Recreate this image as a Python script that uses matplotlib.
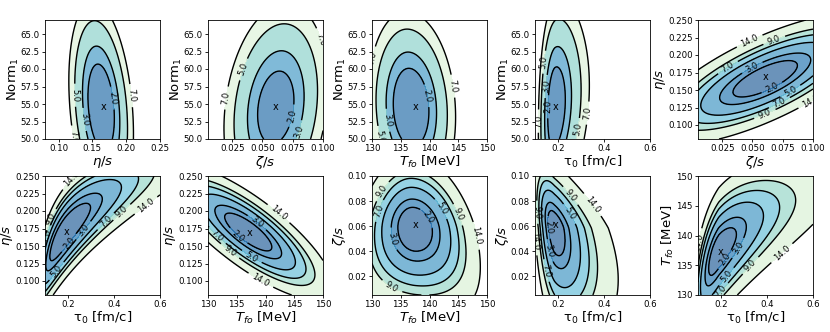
import numpy as np
import matplotlib
matplotlib.use('Agg')
import matplotlib.pyplot as plt
from matplotlib.colors import Normalize

# chi^2 contour panels: (x parameter, y parameter)
x_names = ['eta', 'zeta', 'tfo', 'tau', 'zeta', 'tau', 'tfo', 'tfo', 'tau', 'tau']
y_names = ['norm', 'norm', 'norm', 'norm', 'eta', 'eta', 'eta', 'zeta', 'zeta', 'tfo']

axis_labels = {'eta': r'$\eta/s$', 'zeta': r'$\zeta/s$', 'tfo': r'$T_{fo}$ [MeV]',
               'tau': 'τ$_0$ [fm/c]', 'norm': r'Norm$_1$'}
axis_range = {'eta': (0.08, 0.25), 'zeta': (0.005, 0.1), 'tfo': (130, 150),
              'tau': (0.1, 0.6), 'norm': (50, 67)}
log_axis = {'eta': False, 'zeta': False, 'tfo': False, 'tau': True, 'norm': False}

# best fit point ('x' marker) per panel
best_x = [0.167, 0.061, 137.5, 0.19, 0.061, 0.193, 137.3, 137.6, 0.19, 0.197]
best_y = [54.5, 54.5, 54.5, 54.5, 0.169, 0.170, 0.168, 0.061, 0.061, 137.3]

# shape of the chi^2 surface
# (half width of the chi^2=2 contour on each side, correlation, bending, minimum, power)
centre_x = [0.163, 0.061, 136.7, 0.186, 0.0605, 0.19, 137.0, 137.3, 0.185, 0.19]
centre_y = [54.5, 54.5, 54.5, 54.5, 0.166, 0.170, 0.170, 0.059, 0.0584, 137.3]
half_x_lo = [0.0195, 0.015, 3.0, 0.18, 0.0266, 0.45, 4.1, 2.8, 0.17, 0.26]
half_x_hi = [0.0195, 0.015, 3.2, 0.22, 0.0266, 0.45, 4.1, 3.2, 0.22, 0.34]
half_y_lo = [6.2, 5.2, 5.6, 5.8, 0.026, 0.041, 0.027, 0.019, 0.022, 4.0]
half_y_hi = [6.2, 5.2, 5.6, 5.8, 0.026, 0.041, 0.027, 0.016, 0.014, 4.0]
corr = [-0.25, 0.2, -0.1, 0.2, 0.73, 0.85, -0.8, -0.1, -0.45, 0.72]
bend = [0.0, 0.0, 0.0, 0.0, 0.0, 0.0, 0.0, 0.1, 0.0, 0.0]
chi2_min = [1.0, 1.3, 1.0, 1.2, 1.0, 1.0, 1.0, 1.0, 1.0, 1.0]
power = [2.0, 2.0, 2.0, 2.0, 2.0, 2.3, 2.0, 2.0, 1.8, 1.9]

levels_norm = [1, 2, 3, 5, 7]
levels_full = [1, 2, 3, 5, 7, 9, 14]

ticks = {'eta': [0.10, 0.15, 0.20, 0.25], 'zeta': [0.025, 0.050, 0.075, 0.100],
         'tfo': [130, 135, 140, 145, 150], 'tau': [0.2, 0.4, 0.6],
         'norm': [50.0, 52.5, 55.0, 57.5, 60.0, 62.5, 65.0]}
yticks = {'eta': [0.100, 0.125, 0.150, 0.175, 0.200, 0.225, 0.250],
          'zeta': [0.02, 0.04, 0.06, 0.08, 0.10], 'tfo': [130, 135, 140, 145, 150],
          'norm': [50.0, 52.5, 55.0, 57.5, 60.0, 62.5, 65.0]}
fmt_x = {'eta': '%.2f', 'zeta': '%.3f', 'tfo': '%d', 'tau': '%.1f'}
fmt_y = {'eta': '%.3f', 'zeta': '%.2f', 'tfo': '%d', 'norm': '%.1f'}


def chi2_surface(i, X, Y):
    gx = np.log(X) if log_axis[x_names[i]] else X
    gx0 = np.log(centre_x[i]) if log_axis[x_names[i]] else centre_x[i]
    u = gx - gx0
    u = np.where(u < 0, u / half_x_lo[i], u / half_x_hi[i])
    v = Y - centre_y[i]
    v = np.where(v < 0, v / half_y_lo[i], v / half_y_hi[i])
    v = v + bend[i] * u**2
    r = corr[i]
    q = (u * u - 2 * r * u * v + v * v) / (1 - r * r)
    m = chi2_min[i]
    return m + (2 - m) * q**(power[i] / 2)


fig = plt.figure(figsize=(8.3, 3.32), dpi=100)
lefts = [45, 208, 372, 535, 698]
for i in range(10):
    row, col = divmod(i, 5)
    bottom = (332 - 139) / 332 if row == 0 else (332 - 295) / 332
    ax = fig.add_axes([lefts[col] / 830, bottom, 115 / 830, 119 / 332])
    xn, yn = x_names[i], y_names[i]
    xs = np.linspace(*axis_range[xn], 300)
    ys = np.linspace(*axis_range[yn], 300)
    X, Y = np.meshgrid(xs, ys)
    Z = chi2_surface(i, X, Y)
    lev = levels_norm if yn == 'norm' else levels_full
    ax.contourf(X, Y, Z, levels=lev, cmap='GnBu_r', alpha=0.6,
                norm=Normalize(vmin=lev[0], vmax=lev[-1]))
    cs = ax.contour(X, Y, Z, levels=lev[1:], colors='k', linewidths=1.0)
    ax.clabel(cs, fmt='%.1f', fontsize=6, inline=True)
    ax.text(best_x[i], best_y[i], 'x', ha='center', va='center', fontsize=7)
    ax.set_xlim(axis_range[xn])
    ax.set_ylim(axis_range[yn])
    ax.set_xticks(ticks[xn])
    ax.set_xticklabels([fmt_x[xn] % t for t in ticks[xn]])
    ax.set_yticks(yticks[yn])
    ax.set_yticklabels([fmt_y[yn] % t for t in yticks[yn]])
    ax.tick_params(labelsize=6.2, length=2.5, width=0.6, pad=1.2)
    ax.set_xlabel(axis_labels[xn], fontsize=9.5, labelpad=0.5)
    ax.set_ylabel(axis_labels[yn], fontsize=9.5, labelpad=0)
    for s in ax.spines.values():
        s.set_linewidth(0.6)

fig.savefig('out.png', dpi=100)
